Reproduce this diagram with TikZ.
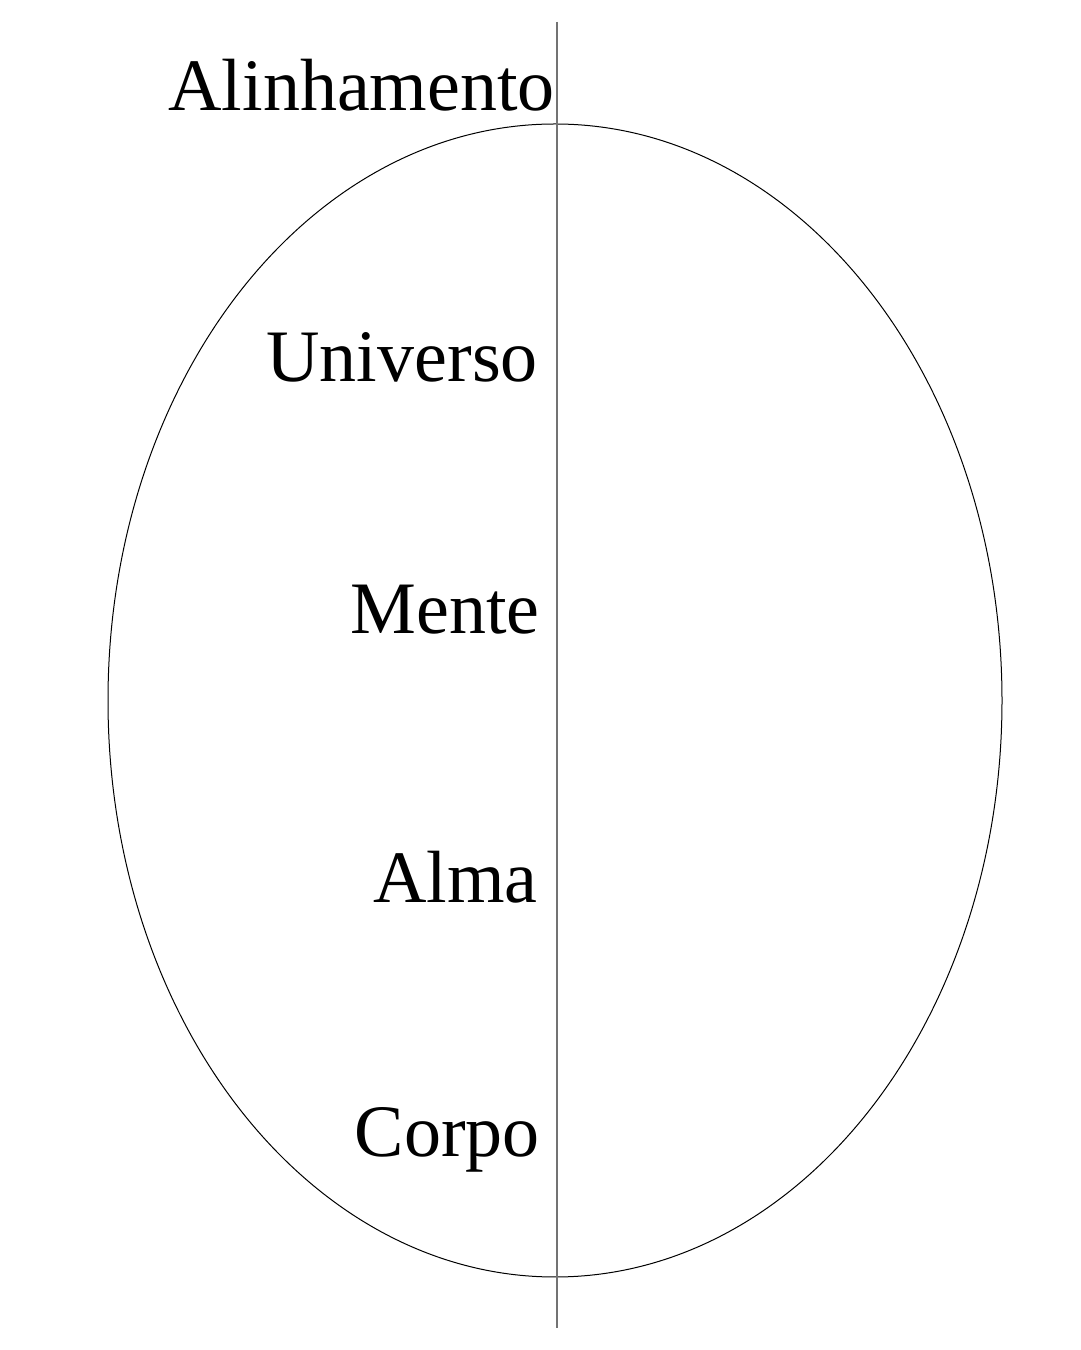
\documentclass[tikz,border=0pt]{standalone}
\usepackage{fontspec}
\setmainfont{Liberation Serif}
\usetikzlibrary{shapes.geometric}
\begin{document}
\begin{tikzpicture}[x=1pt,y=1pt,
  lbl/.style={anchor=base east,inner sep=0pt,font=\fontsize{74}{80}\selectfont}]
\useasboundingbox (0,0) rectangle (1080,1350);
\fill[white] (0,0) rectangle (1080,1350);
\node[draw=black,line width=1pt,ellipse,minimum width=894pt,minimum height=1153pt,inner sep=0pt] (egg) at (555,649.5) {};
\coordinate (top) at (557,1328);
\coordinate (bot) at (557,22);
\draw[gray!90!black,line width=1.2pt] (top) -- (bot);
\node[lbl] (a1) at (555,1239) {Alinhamento};
\node[lbl] (a2) at (538,968) {Universo};
\node[lbl] (a3) at (540,716) {Mente};
\node[lbl] (a4) at (538,447) {Alma};
\node[lbl] (a5) at (540,193) {Corpo};
\end{tikzpicture}
\end{document}
